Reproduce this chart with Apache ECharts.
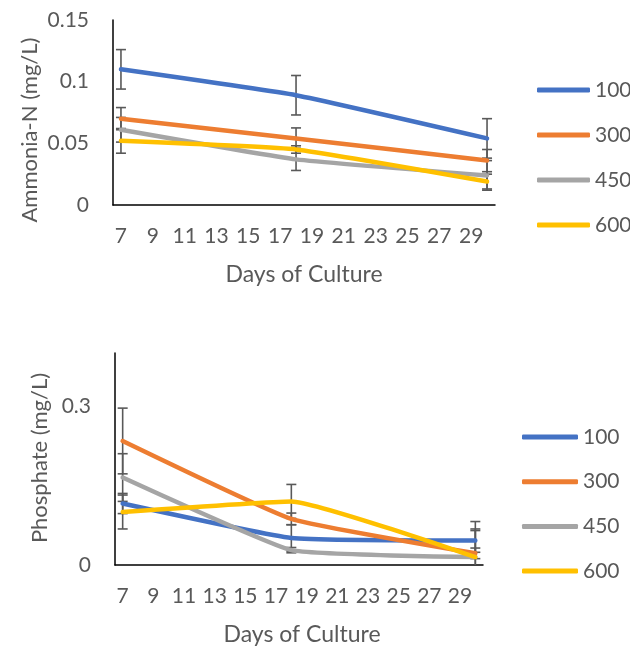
<!DOCTYPE html>
<html>
<head>
<meta charset="utf-8">
<script src="https://cdn.jsdelivr.net/npm/echarts@6/dist/echarts.min.js"></script>
<style>
html,body{margin:0;padding:0;background:#fff;}
#chart{width:630px;height:647px;}
</style>
</head>
<body>
<div id="chart"></div>
<script>
// ---- data ----
const days = [7, 18, 30];
const seriesNames = ['100', '300', '450', '600'];
const colors = ['#4472C4', '#ED7D31', '#A5A5A5', '#FFC000'];

// Ammonia-N (mg/L)
const amm100 = [0.110, 0.089, 0.054];
const amm300 = [0.070, 0.054, 0.036];
const amm450 = [0.061, 0.037, 0.024];
const amm600 = [0.052, 0.045, 0.019];
const amm100Err = [0.016, 0.016, 0.016];
const amm300Err = [0.009, 0.0085, 0.009];
const amm450Err = [0.010, 0.009, 0.012];
const amm600Err = [0.010, 0.003, 0.006];

// Phosphate (mg/L)
const pho100 = [0.116, 0.051, 0.046];
const pho300 = [0.234, 0.087, 0.022];
const pho450 = [0.165, 0.028, 0.015];
const pho600 = [0.100, 0.120, 0.015];
const pho100Err = [0.019, 0.025, 0.022];
const pho300Err = [0.062, 0.011, 0.010];
const pho450Err = [0.045, 0.005, 0.050];
const pho600Err = [0.032, 0.032, 0.067];

const xTickLabels = [7, 9, 11, 13, 15, 17, 19, 21, 23, 25, 27, 29];
const ammTicks = [0, 0.05, 0.1, 0.15];
const phoTicks = [0, 0.3];

// ---- build ----
const FONT = 'Lato';
const TXT = '#595959';
const ammVals = [amm100, amm300, amm450, amm600];
const ammErrs = [amm100Err, amm300Err, amm450Err, amm600Err];
const phoVals = [pho100, pho300, pho450, pho600];
const phoErrs = [pho100Err, pho300Err, pho450Err, pho600Err];

function pairs(vals) { return days.map((d, i) => [d, vals[i]]); }
function errData(vals, errs) { return days.map((d, i) => [d, vals[i], errs[i]]); }

function renderErr(params, api) {
  const x = api.value(0), y = api.value(1), e = api.value(2);
  const cs = params.coordSys;
  const bottomY = cs.y + cs.height;
  const pTop = api.coord([x, y + e]);
  const pBot = api.coord([x, y - e]);
  const children = [];
  const by = Math.min(pBot[1], bottomY);
  const st = {stroke: TXT, lineWidth: 1.6};
  children.push({type: 'line', shape: {x1: pTop[0], y1: pTop[1], x2: pTop[0], y2: by}, style: st});
  children.push({type: 'line', shape: {x1: pTop[0] - 5, y1: pTop[1], x2: pTop[0] + 5, y2: pTop[1]}, style: st});
  if (pBot[1] <= bottomY) {
    children.push({type: 'line', shape: {x1: pBot[0] - 5, y1: pBot[1], x2: pBot[0] + 5, y2: pBot[1]}, style: st});
  }
  return {type: 'group', children: children};
}

const series = [];
[0, 1].forEach(g => {
  const V = g === 0 ? ammVals : phoVals;
  const E = g === 0 ? ammErrs : phoErrs;
  seriesNames.forEach((n, k) => {
    series.push({
      type: 'custom', name: n + '_err', xAxisIndex: g, yAxisIndex: g,
      renderItem: renderErr, data: errData(V[k], E[k]), z: 1, silent: true,
      encode: {x: 0, y: 1}
    });
  });
  seriesNames.forEach((n, k) => {
    series.push({
      type: 'line', name: n, xAxisIndex: g, yAxisIndex: g,
      data: pairs(V[k]), smooth: 0.12, symbol: 'none', z: 2,
      lineStyle: {color: colors[k], width: 4.5, cap: 'round'},
      itemStyle: {color: colors[k]}
    });
  });
});

const xAxisCommon = {
  type: 'value', min: 6.5, max: 30.5, interval: 0.5,
  axisLine: {lineStyle: {color: '#000', width: 1.5}},
  axisTick: {show: false}, splitLine: {show: false},
  axisLabel: {
    color: TXT, fontFamily: FONT, fontSize: 21, margin: 21,
    formatter: v => (xTickLabels.indexOf(v) >= 0 ? String(v) : '')
  }
};
const yAxisCommon = {
  type: 'value', min: 0,
  axisLine: {show: true, lineStyle: {color: '#000', width: 1.5}},
  axisTick: {show: false}, splitLine: {show: false},
  axisLabel: {color: TXT, fontFamily: FONT, fontSize: 21, margin: 24}
};

const legendText = {color: TXT, fontFamily: FONT, fontSize: 21, lineHeight: 22};

const option = {
  animation: false,
  backgroundColor: '#fff',
  grid: [
    {left: 113, top: 20, width: 382, height: 185},
    {left: 115, top: 353, width: 368, height: 212}
  ],
  xAxis: [
    Object.assign({gridIndex: 0}, xAxisCommon),
    Object.assign({gridIndex: 1}, xAxisCommon)
  ],
  yAxis: [
    Object.assign({}, yAxisCommon, {gridIndex: 0, max: ammTicks[ammTicks.length - 1], interval: ammTicks[1] - ammTicks[0]}),
    Object.assign({}, yAxisCommon, {gridIndex: 1, max: 0.4, interval: phoTicks[1] - phoTicks[0],
      axisLabel: Object.assign({}, yAxisCommon.axisLabel, {showMaxLabel: false})})
  ],
  legend: [
    {orient: 'vertical', left: 537, top: 79, padding: 0, itemWidth: 53, itemHeight: 5, itemGap: 23,
      icon: 'roundRect', data: seriesNames, textStyle: legendText},
    {orient: 'vertical', left: 522, top: 426, padding: 0, itemWidth: 56, itemHeight: 5, itemGap: 22.7,
      icon: 'roundRect', data: seriesNames, textStyle: legendText}
  ],
  graphic: [
    {type: 'text', x: 30, y: 130, rotation: Math.PI / 2,
      style: {text: 'Ammonia-N (mg/L)', fill: TXT, font: '22px ' + FONT, align: 'center', verticalAlign: 'middle'}},
    {type: 'text', x: 40, y: 458, rotation: Math.PI / 2,
      style: {text: 'Phosphate (mg/L)', fill: TXT, font: '22px ' + FONT, align: 'center', verticalAlign: 'middle'}},
    {type: 'text', x: 304, y: 275,
      style: {text: 'Days of Culture', fill: TXT, font: '23px ' + FONT, align: 'center', verticalAlign: 'middle'}},
    {type: 'text', x: 302, y: 635,
      style: {text: 'Days of Culture', fill: TXT, font: '23px ' + FONT, align: 'center', verticalAlign: 'middle'}}
  ],
  series: series
};

const chart = echarts.init(document.getElementById('chart'), null, {renderer: 'canvas'});
chart.setOption(option);
</script>
</body>
</html>
